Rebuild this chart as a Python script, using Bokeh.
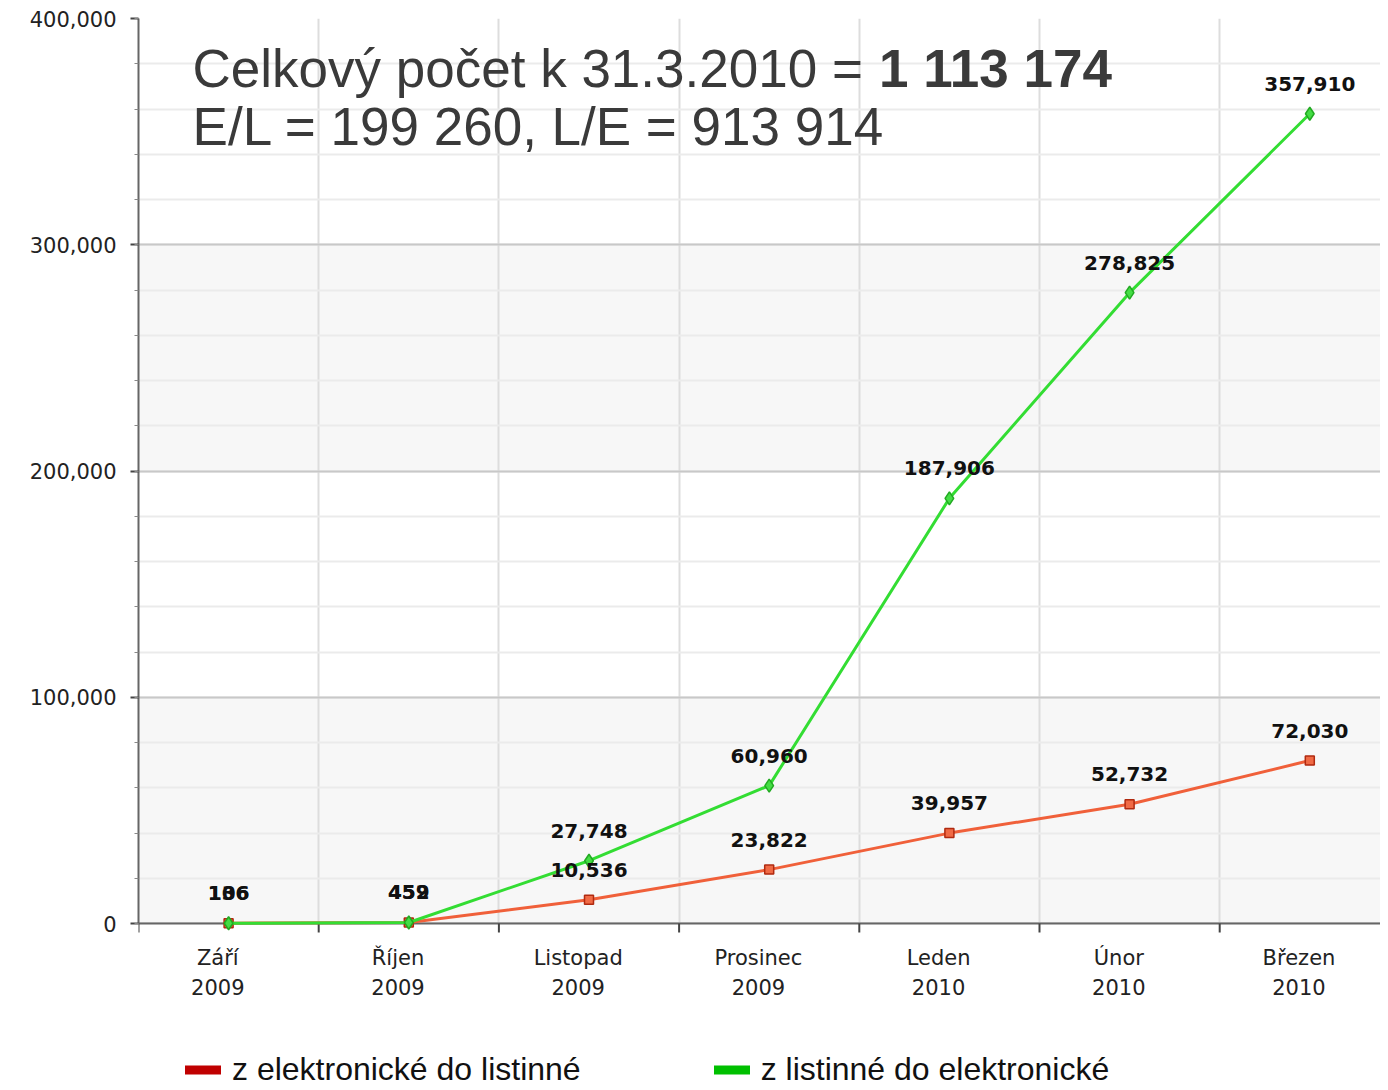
import math
from bokeh.plotting import figure
from bokeh.models import (FixedTicker, NumeralTickFormatter, Label, Legend, LegendItem, Range1d,
                          BoxAnnotation)
from bokeh.core.properties import value
from bokeh.embed import file_html
from bokeh.resources import INLINE

# ---- data ----
months = ["Září", "Říjen", "Listopad", "Prosinec", "Leden", "Únor", "Březen"]
years = ["2009", "2009", "2009", "2009", "2010", "2010", "2010"]
e_to_l = [136, 452, 10536, 23822, 39957, 52732, 72030]          # z elektronické do listinné
l_to_e = [106, 459, 27748, 60960, 187906, 278825, 357910]       # z listinné do elektronické
y_tick_step = 100000
y_max = 400000
series_names = ["z elektronické do listinné", "z listinné do elektronické"]
legend_colors = ["#c00000", "#00c000"]
title_line1 = "Celkový počet k 31.3.2010 = "
title_bold = "1 113 174"
title_line2 = "E/L = 199 260, L/E = 913 914"

x = list(range(len(months)))
boundaries = [i - 0.5 for i in x] + [len(x) - 0.5]
label_shift = -0.06
label_pos = [i + label_shift for i in x]
cat_labels = [f"{m}\n{yr}" for m, yr in zip(months, years)]
major_ticks = list(range(0, y_max + 1, y_tick_step))
minor_ticks = list(range(0, y_max + 1, y_tick_step // 5))

FRAME_W = 1242
PLOT_H = 905          # pixel height of the 0..y_max value area
FRAME_H = 1070        # frame extends below 0 to host the category labels and legend
CAT_W = 180.2
LEFT = 138
TOP = 18
y_start = -(FRAME_H - PLOT_H) * y_max / PLOT_H

p = figure(frame_width=FRAME_W, frame_height=FRAME_H,
           x_range=Range1d(-0.5, -0.5 + FRAME_W / CAT_W), y_range=Range1d(y_start, y_max),
           output_backend="svg", toolbar_location=None,
           min_border_left=LEFT, min_border_top=TOP, min_border_right=0, min_border_bottom=0,
           background_fill_color="white", border_fill_color="white", outline_line_color=None)

# ---- alternating background bands (below the grid) ----
for lo in range(0, y_max, 2 * y_tick_step):
    p.add_layout(BoxAnnotation(bottom=lo, top=lo + y_tick_step, fill_color="#f7f7f7", fill_alpha=1.0,
                               line_color=None, level="image"))

# ---- y axis ----
ya = p.yaxis[0]
ya.ticker = FixedTicker(ticks=major_ticks, minor_ticks=minor_ticks)
ya.formatter = NumeralTickFormatter(format="0,0")
ya.bounds = (0, y_max)
ya.axis_line_color = "#666666"
ya.axis_line_width = 2
ya.major_tick_line_color = "#444444"
ya.major_tick_line_width = 2
ya.major_tick_out = 8
ya.major_tick_in = 0
ya.minor_tick_line_color = "#888888"
ya.minor_tick_out = 4
ya.minor_tick_in = 0
ya.major_label_text_font = "DejaVu Sans"
ya.major_label_text_font_size = "21px"
ya.major_label_text_color = "#222222"
ya.major_label_standoff = 14

# ---- x axis: hidden, only feeds the vertical grid ----
xa = p.xaxis[0]
xa.ticker = FixedTicker(ticks=boundaries)
xa.visible = False

# ---- grids ----
p.xgrid.ticker = FixedTicker(ticks=boundaries)
p.xgrid.grid_line_color = "#dddddd"
p.xgrid.grid_line_width = 2
p.ygrid.ticker = FixedTicker(ticks=major_ticks, minor_ticks=minor_ticks)
p.ygrid.grid_line_color = "#c8c8c8"
p.ygrid.grid_line_width = 2
p.ygrid.minor_grid_line_color = "#ebebeb"
p.ygrid.minor_grid_line_width = 2

# white mask below the value area (hides grid lines there)
p.add_layout(BoxAnnotation(top=0, fill_color="white", fill_alpha=1.0, line_color=None, level="underlay"))

# ---- category axis drawn at value 0 ----
p.hspan(y=[0], line_color="#666666", line_width=2)
p.ray(x=boundaries, y=[0] * len(boundaries), length=9, length_units="screen", angle=-math.pi / 2,
      line_color="#444444", line_width=2)
p.text(label_pos, [0] * len(label_pos), text=cat_labels, text_font=value("DejaVu Sans"),
       text_font_size="21px", text_color="#222222", text_align="center", text_baseline="top",
       text_line_height=1.25, y_offset=22)

# ---- series ----
p.line(x, e_to_l, line_color="#f0603a", line_width=3)
p.scatter(x, e_to_l, marker="square", size=9, fill_color="#f06a45", line_color="#b02a10", line_width=1.5)
p.line(x, l_to_e, line_color="#33dd33", line_width=3)
p.scatter(x, l_to_e, marker="diamond", size=13, fill_color="#44dd44", line_color="#22aa22", line_width=1.5)

lab_font = value("DejaVu Sans")
p.text(x, e_to_l, text=[f"{v:,}" for v in e_to_l], text_font=lab_font, text_font_style="bold",
       text_font_size="20px", text_color="#111111", text_align="center", text_baseline="middle", y_offset=-30)
p.text(x, l_to_e, text=[f"{v:,}" for v in l_to_e], text_font=lab_font, text_font_style="bold",
       text_font_size="20px", text_color="#111111", text_align="center", text_baseline="middle", y_offset=-30)

# ---- title annotation ----
t_font = "Liberation Sans"
p.add_layout(Label(x=-0.2, y=364900, text=title_line1, text_font=t_font, text_font_size="53px",
                   text_color="#3a3a3a"))
p.add_layout(Label(x=3.61, y=364900, text=title_bold, text_font=t_font, text_font_size="53px",
                   text_font_style="bold", text_color="#3a3a3a"))
p.add_layout(Label(x=-0.2, y=339400, text=title_line2, text_font=t_font, text_font_size="53px",
                   text_color="#3a3a3a"))

# ---- legend (zero-area swatch renderers anchored at the first data point) ----
swatches = [p.quad(left=[x[0]], right=[x[0]], top=[0], bottom=[0], fill_color=c, line_color=None)
            for c in legend_colors]
legend = Legend(items=[LegendItem(label=n, renderers=[r]) for n, r in zip(series_names, swatches)],
                orientation="horizontal", location=(42, 0),
                glyph_width=45, glyph_height=11, spacing=128, label_standoff=7,
                label_text_font="Liberation Sans", label_text_font_size="32px",
                label_text_color="#111111", border_line_color=None, background_fill_alpha=0,
                margin=0, padding=0)
p.add_layout(legend, "center")

open("out.html", "w").write(file_html(p, INLINE))
